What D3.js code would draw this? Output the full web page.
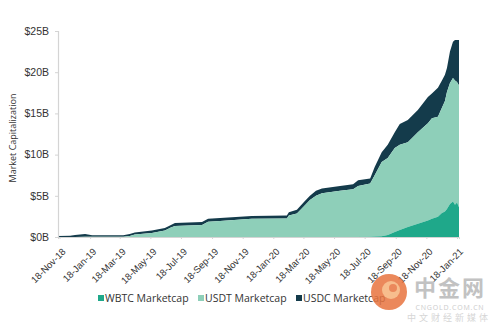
<!DOCTYPE html>
<html>
<head>
<meta charset="utf-8">
<script src="https://cdn.jsdelivr.net/npm/d3@7"></script>
<style>
  body { margin: 0; background: #fff; }
  svg { display: block; font-family: "Open Sans", "DejaVu Sans", sans-serif; }
</style>
</head>
<body>
<svg id="chart" width="500" height="334"></svg>
<script>
// values in billions of dollars
var dates = [
    "2018-11-15", "2018-12-09", "2018-12-19", "2019-01-08", "2019-01-22", "2019-02-27",
    "2019-03-25", "2019-04-07", "2019-04-17", "2019-05-21", "2019-06-16", "2019-06-28",
    "2019-07-06", "2019-08-29", "2019-09-10", "2019-10-04", "2019-12-06", "2020-02-14",
    "2020-02-18", "2020-03-05", "2020-03-20", "2020-03-31", "2020-04-12", "2020-04-24",
    "2020-05-30", "2020-06-25", "2020-07-05", "2020-07-29", "2020-08-07", "2020-08-21",
    "2020-09-02", "2020-09-16", "2020-09-26", "2020-10-12", "2020-11-01", "2020-11-21",
    "2020-11-29", "2020-12-11", "2020-12-19", "2020-12-25", "2020-12-29", "2021-01-04",
    "2021-01-10", "2021-01-14", "2021-01-18", "2021-01-22"
];
var wbtc = [
    0, 0, 0, 0, 0, 0, 0, 0, 0, 0, 0, 0, 0, 0, 0, 0, 0, 0, 0, 0, 0, 0, 0, 0, 0, 0, 0,
    0.02, 0.05, 0.1, 0.25, 0.6, 0.85, 1.2, 1.6, 2.0, 2.2, 2.45, 2.9, 3.1, 3.4, 4.0,
    4.3, 3.9, 4.2, 3.6
];
var usdt = [
    0, 0, 0.01, 0.02, 0.02, 0.02, 0.03, 0.12, 0.3, 0.5, 0.8, 1.15, 1.35, 1.45, 1.85,
    1.95, 2.2, 2.25, 2.6, 2.85, 3.8, 4.5, 5.0, 5.3, 5.6, 5.8, 6.2, 6.48, 7.45, 9.0,
    9.35, 10.2, 10.35, 10.3, 11.1, 11.8, 12.2, 12.15, 12.8, 13.4, 14.2, 14.7, 15.0,
    15.1, 14.6, 14.8
];
var usdc = [
    0.12, 0.15, 0.24, 0.33, 0.2, 0.18, 0.17, 0.23, 0.25, 0.28, 0.3, 0.3, 0.35, 0.37,
    0.35, 0.35, 0.35, 0.35, 0.4, 0.45, 0.5, 0.5, 0.6, 0.6, 0.6, 0.6, 0.7, 0.6, 1.0,
    1.2, 1.6, 1.9, 2.5, 2.7, 2.7, 3.2, 3.0, 3.5, 3.3, 3.2, 2.9, 3.8, 4.4, 4.9, 5.1, 5.5
];
var seriesNames = ["WBTC Marketcap", "USDT Marketcap", "USDC Marketcap"];
var yTicks = [0, 5, 10, 15, 20, 25];
var xTicks = [
    "2018-11-18", "2019-01-18", "2019-03-18", "2019-05-18", "2019-07-18", "2019-09-18",
    "2019-11-18", "2020-01-18", "2020-03-18", "2020-05-18", "2020-07-18", "2020-09-18",
    "2020-11-18", "2021-01-18"
];

var parse = d3.timeParse("%Y-%m-%d");
var colors = ["#1fa88a", "#8ecfb9", "#143b4b"];
var keys = ["wbtc", "usdt", "usdc"];

var rows = dates.map(function (d, i) {
    return { date: parse(d), wbtc: wbtc[i], usdt: usdt[i], usdc: usdc[i] };
});

var svg = d3.select("#chart");

var x = d3.scaleTime()
    .domain([parse("2018-11-15"), parse("2021-01-22")])
    .range([58, 459]);
var y = d3.scaleLinear().domain([0, 25]).range([237, 31]);

var stacked = d3.stack().keys(keys)(rows);

var area = d3.area()
    .x(function (d) { return x(d.data.date); })
    .y0(function (d) { return y(d[0]); })
    .y1(function (d) { return y(d[1]); });

// usdc first so the lighter bands sit on top of its edge
svg.append("g")
    .selectAll("path")
    .data(stacked.slice().reverse())
    .join("path")
    .attr("fill", function (d) { return colors[keys.indexOf(d.key)]; })
    .attr("d", area);

// y axis
var yAxis = svg.append("g")
    .attr("transform", "translate(58,0)")
    .call(d3.axisLeft(y)
        .tickValues(yTicks)
        .tickSize(3)
        .tickPadding(6)
        .tickFormat(function (d) { return "$" + d + "B"; }));
yAxis.select(".domain").attr("stroke", "#d4d4d4").attr("stroke-width", 1.2);
yAxis.selectAll(".tick line").attr("stroke", "#d4d4d4");
yAxis.selectAll(".tick text")
    .attr("fill", "#333")
    .style("font-size", "10.5px");

svg.append("text")
    .attr("transform", "translate(16,138) rotate(-90)")
    .attr("text-anchor", "middle")
    .attr("fill", "#333")
    .style("font-size", "9px")
    .text("Market Capitalization");

// x axis
var fmt = d3.timeFormat("%d-%b-%y");
var xAxis = svg.append("g")
    .attr("transform", "translate(0,237)")
    .call(d3.axisBottom(x)
        .tickValues(xTicks.map(parse))
        .tickSize(2)
        .tickFormat(fmt));
xAxis.select(".domain").attr("stroke", "#d4d4d4");
xAxis.selectAll(".tick line").attr("stroke", "#d4d4d4");
xAxis.selectAll(".tick text")
    .attr("fill", "#333")
    .style("font-size", "9.5px")
    .attr("text-anchor", "end")
    .attr("y", 0)
    .attr("dy", "0.35em")
    .attr("transform", "translate(4,13) rotate(-45)");

// legend
var legend = svg.append("g").attr("transform", "translate(0,298)");
var legendX = [98, 198, 296];
seriesNames.forEach(function (name, i) {
    var g = legend.append("g").attr("transform", "translate(" + legendX[i] + ",0)");
    g.append("rect")
        .attr("x", 0).attr("y", -3)
        .attr("width", 6).attr("height", 6)
        .attr("fill", colors[i]);
    g.append("text")
        .attr("x", 7).attr("y", 4)
        .attr("fill", "#333")
        .style("font-size", "10.5px")
        .text(name);
});

// watermark
var wm = svg.append("g").attr("opacity", 0.85);
wm.append("circle").attr("cx", 389).attr("cy", 292).attr("r", 18).attr("fill", "#e8743f");
wm.append("circle").attr("cx", 391).attr("cy", 290).attr("r", 9).attr("fill", "#f6b27a");
wm.append("circle").attr("cx", 393).attr("cy", 288).attr("r", 4).attr("fill", "#e8743f");
wm.append("text")
    .attr("x", 450).attr("y", 296)
    .attr("text-anchor", "middle")
    .attr("fill", "#b8b8b8")
    .style("font-family", "'Noto Sans CJK SC', sans-serif")
    .style("font-size", "22px")
    .style("font-weight", "bold")
    .style("letter-spacing", "2px")
    .text("中金网");
wm.append("text")
    .attr("x", 450).attr("y", 310)
    .attr("text-anchor", "middle")
    .attr("fill", "#c4c4c4")
    .style("font-size", "7px")
    .style("letter-spacing", "0.8px")
    .text("CNGOLD.COM.CN");
wm.append("text")
    .attr("x", 449).attr("y", 321)
    .attr("text-anchor", "middle")
    .attr("fill", "#cfcfcf")
    .style("font-family", "'Noto Sans CJK SC', sans-serif")
    .style("font-size", "9px")
    .style("letter-spacing", "3px")
    .text("中文财经新媒体");
</script>
</body>
</html>
